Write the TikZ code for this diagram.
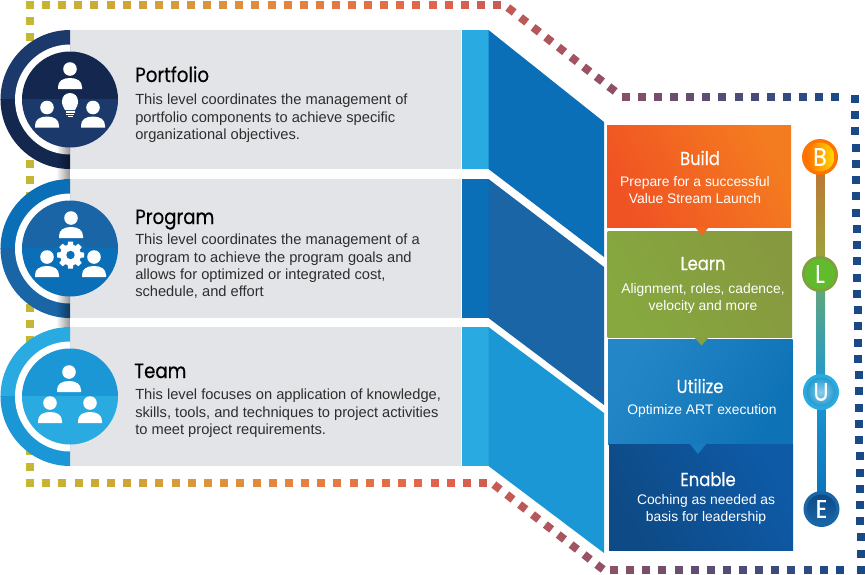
\documentclass[tikz,border=0pt]{standalone}
\usepackage{fontspec}
\usetikzlibrary{fadings}
\setmainfont{Liberation Sans}
\newfontfamily\titlefont[FakeBold=0.35,FakeStretch=0.88]{Poppins}
\definecolor{dotA}{HTML}{C4B733}
\definecolor{dotB}{HTML}{E5843F}
\definecolor{dotC}{HTML}{E0604D}
\definecolor{dotD}{HTML}{8A4F68}
\definecolor{dotE}{HTML}{1A4A85}
\definecolor{panelgray}{HTML}{E2E4E7}
\definecolor{navyA}{HTML}{1B3A6B}
\definecolor{navyB}{HTML}{14284F}
\definecolor{midA}{HTML}{0A6FB7}
\definecolor{midB}{HTML}{1A65A6}
\definecolor{skyA}{HTML}{29ABE2}
\definecolor{skyB}{HTML}{1B97D5}
\definecolor{buildL}{HTML}{F05323}
\definecolor{buildR}{HTML}{F47C20}
\definecolor{learnL}{HTML}{86A83F}
\definecolor{learnR}{HTML}{87993F}
\definecolor{utilL}{HTML}{2387C7}
\definecolor{utilR}{HTML}{0E72B6}
\definecolor{enabL}{HTML}{0E4A85}
\definecolor{enabR}{HTML}{0E5AA7}
\newcommand{\dotsq}[3]{%
  \ifdim#1pt<290pt
    \pgfmathsetmacro\dotp{(#1-30)/2.6}\colorlet{sqc}{dotB!\dotp!dotA}%
  \else\ifdim#1pt<450pt
    \pgfmathsetmacro\dotp{(#1-290)/1.6}\colorlet{sqc}{dotC!\dotp!dotB}%
  \else\ifdim#1pt<620pt
    \pgfmathsetmacro\dotp{(#1-450)/1.7}\colorlet{sqc}{dotD!\dotp!dotC}%
  \else\ifdim#1pt<840pt
    \pgfmathsetmacro\dotp{(#1-620)/2.2}\colorlet{sqc}{dotE!\dotp!dotD}%
  \else
    \colorlet{sqc}{dotE}%
  \fi\fi\fi\fi
  \fill[sqc,shift={(#1,#2)},rotate=#3] (-4,-4) rectangle (4,4);}
\newcommand{\person}[2]{%
  \fill[white] (#1,#2) circle (6.8);
  \fill[white] (#1-12,#2+20) -- (#1-12,#2+18) .. controls (#1-12,#2+12) and (#1-7,#2+9) .. (#1,#2+9)
    .. controls (#1+7,#2+9) and (#1+12,#2+12) .. (#1+12,#2+18) -- (#1+12,#2+20) -- cycle;}
\newcommand{\levelring}[3]{%
  \begin{scope}
    \clip (0,#1-72) rectangle (70,#1);
    \fill[#2] (70,#1) circle (69.5);
  \end{scope}
  \begin{scope}
    \clip (0,#1) rectangle (70,#1+72);
    \fill[#3] (70,#1) circle (69.5);
  \end{scope}
  \begin{scope}
    \clip (0,#1-72) rectangle (70,#1+72);
    \fill[white] (70,#1) circle (55);
  \end{scope}}
\newcommand{\leveldisc}[3]{%
  \begin{scope}
    \clip (0,#1-72) rectangle (140,#1);
    \fill[#3] (70,#1) circle (48);
  \end{scope}
  \begin{scope}
    \clip (0,#1) rectangle (140,#1+72);
    \fill[#2] (70,#1) circle (48);
  \end{scope}}
\tikzset{
  paneltext/.style={anchor=north west,align=left,inner sep=0pt,text=black!82,font=\fontsize{11}{13}\selectfont},
  paneltitle/.style={anchor=base west,inner sep=0pt,text=black,font=\titlefont\fontsize{15.5}{18}\selectfont},
  blocktitle/.style={anchor=base,inner sep=0pt,text=white,font=\titlefont\fontsize{14}{16}\selectfont},
  blocktext/.style={inner sep=0pt,align=center,text=white,font=\fontsize{10.4}{12.8}\selectfont},
  badgeletter/.style={inner sep=0pt,text=white,font=\titlefont\fontsize{19}{20}\selectfont},
  panelshadow/.style={fill=black,fill opacity=0.42,path fading=west},
}
\begin{document}
\begin{tikzpicture}[x=0.75pt,y=-0.75pt]
\useasboundingbox (0,0) rectangle (865,575);
% dotted route
\foreach \i in {0,...,29} {\pgfmathsetmacro\xx{30+\i*16.103}\dotsq{\xx}{5}{0}}
\foreach \i in {0,...,8} {\pgfmathsetmacro\xx{511+\i*12.625}\pgfmathsetmacro\yy{10+\i*9.875}\dotsq{\xx}{\yy}{-38}}
\foreach \i in {0,...,13} {\pgfmathsetmacro\xx{626+\i*16.08}\dotsq{\xx}{96.7}{0}}
\foreach \i in {0,...,29} {\pgfmathsetmacro\xx{855+\i*0.207}\pgfmathsetmacro\yy{99+\i*16.24}\dotsq{\xx}{\yy}{0}}
\foreach \i in {0,...,14} {\pgfmathsetmacro\xx{614+\i*16.13}\dotsq{\xx}{570}{0}}
\foreach \i in {0,...,8} {\pgfmathsetmacro\xx{497+\i*12.875}\pgfmathsetmacro\yy{487+\i*10}\dotsq{\xx}{\yy}{-38}}
\foreach \i in {0,...,28} {\pgfmathsetmacro\xx{30+\i*16.18}\dotsq{\xx}{483}{0}}
\foreach \i in {1,...,29} {\pgfmathsetmacro\yy{5+\i*15.93}\dotsq{30}{\yy}{0}}
% panels
\fill[panelgray] (70,30) rectangle (461,169);
\fill[panelgray] (70,179) rectangle (461,318);
\fill[panelgray] (70,327) rectangle (461,466);
\fill[skyA] (461.5,30) rectangle (488.5,169);
\fill[midA] (461.5,179) rectangle (488.5,318);
\fill[skyA] (461.5,327) rectangle (488.5,466);
\fill[midA] (488.5,30) -- (604,122) -- (604,257) -- (488.5,169) -- cycle;
\fill[midB] (488.5,179) -- (604,267) -- (604,405) -- (488.5,318) -- cycle;
\fill[skyB] (488.5,327) -- (604,413) -- (604,553) -- (488.5,466) -- cycle;
% level badges
\levelring{99.5}{navyA}{navyB}
\levelring{248.5}{midA}{midB}
\levelring{396.5}{skyA}{skyB}
\fill[panelshadow] (56,145) rectangle (70,179);
\fill[panelshadow] (56,295) rectangle (70,327);
\leveldisc{99.5}{navyA}{navyB}
\leveldisc{248.5}{midA}{midB}
\leveldisc{396.5}{skyA}{skyB}
% icons
\person{70}{69}\person{47}{107.5}\person{93}{107.5}
\fill[navyA] (60,92) rectangle (80,120);
\fill[navyB] (60,92) rectangle (80,99.5);
\fill[white] (65,110) .. controls (63,106) and (62,105) .. (62,101) arc[start angle=180,end angle=360,radius=8] .. controls (78,105) and (77,106) .. (75,110) -- cycle;
\fill[white] (65.5,111) rectangle (74.5,112.5);
\fill[white] (66,113.5) rectangle (74,115);
\fill[white] (67.5,116) rectangle (72.5,117);
\person{71}{218}\person{47}{257}\person{94}{257}
\begin{scope}[shift={(70.5,255)}]
  \fill[midA] (0,0) circle (16);
  \foreach \a in {0,45,...,315} {\fill[white,rotate=\a] (-3,-9) -- (-2.4,-13.5) -- (2.4,-13.5) -- (3,-9) -- cycle;}
  \fill[white] (0,0) circle (10.5);
  \fill[midA] (0,0) circle (4.2);
\end{scope}
\person{69}{372}\person{50}{403}\person{90}{403}
% panel text
\node[paneltitle] (portfolioT) at (135,82) {Portfolio};
\node[paneltext] (portfolioD) at (135,94) {This level coordinates the management of\\portfolio components to achieve specific\\organizational objectives.};
\node[paneltitle] (programT) at (135,224) {Program};
\node[paneltext] (programD) at (135,234) {This level coordinates the management of a\\program to achieve the program goals and\\allows for optimized or integrated cost,\\schedule, and effort};
\node[paneltitle] (teamT) at (134,378) {Team};
\node[paneltext] (teamD) at (135,389) {This level focuses on application of knowledge,\\skills, tools, and techniques to project activities\\to meet project requirements.};
% right blocks
\shade[left color=buildL,right color=buildR,shading angle=120] (607,125) rectangle (791,227);
\shade[left color=learnL,right color=learnR,shading angle=120] (607.5,231) rectangle (792,337);
\shade[left color=utilL,right color=utilR,shading angle=60] (608,339) rectangle (792.5,444);
\shade[left color=enabL,right color=enabR,shading angle=120] (609,444) rectangle (793,550);
\fill[buildL!50!buildR] (695,227) -- (709,227) -- (702,235.5) -- cycle;
\fill[learnL!50!learnR] (694,337) -- (709,337) -- (701.5,345.5) -- cycle;
\fill[utilL!50!utilR] (690,444) -- (706,444) -- (698,454) -- cycle;
\node[blocktitle] (buildT) at (700,165) {Build};
\node[blocktext] (buildD) at (695,190) {Prepare for a successful\\Value Stream Launch};
\node[blocktitle] (learnT) at (703,270) {Learn};
\node[blocktext] (learnD) at (703,298.5) {Alignment, roles, cadence,\\velocity and more};
\node[blocktitle] (utilT) at (700,393) {Utilize};
\node[blocktext] (utilD) at (702,411) {Optimize ART execution};
\node[blocktitle] (enabT) at (708,486) {Enable};
\node[blocktext] (enabD) at (706,509) {Coching as needed as\\basis for leadership};
% badge rail
\shade[top color=dotB!85!black,bottom color=learnL!75!dotA] (816,157) rectangle (824.5,274);
\shade[top color=learnL!70!skyA,bottom color=skyB] (816.5,274) rectangle (825,392);
\shade[top color=skyB,bottom color=midA] (817,392) rectangle (825.5,509);
\fill[orange!90!red] (820,157) circle (18);
\shade[left color=orange!85!red,right color=yellow!70!orange] (820,157) circle (14.5);
\fill[learnL!95!black] (820,274) circle (18);
\fill[learnL!60!green!70!learnR] (820,274) circle (15);
\fill[skyA] (821,392) circle (18);
\shade[inner color=skyA!55!white,outer color=skyA!90!black] (821,392) circle (14.5);
\fill[midB] (821.5,509) circle (18);
\shade[top color=enabL,bottom color=midB] (821.5,509) circle (14.5);
\node[badgeletter] (letB) at (820,157) {B};
\node[badgeletter] (letL) at (820,274) {L};
\node[badgeletter] (letU) at (821,392) {U};
\node[badgeletter] (letE) at (821.5,509) {E};
\end{tikzpicture}
\end{document}
